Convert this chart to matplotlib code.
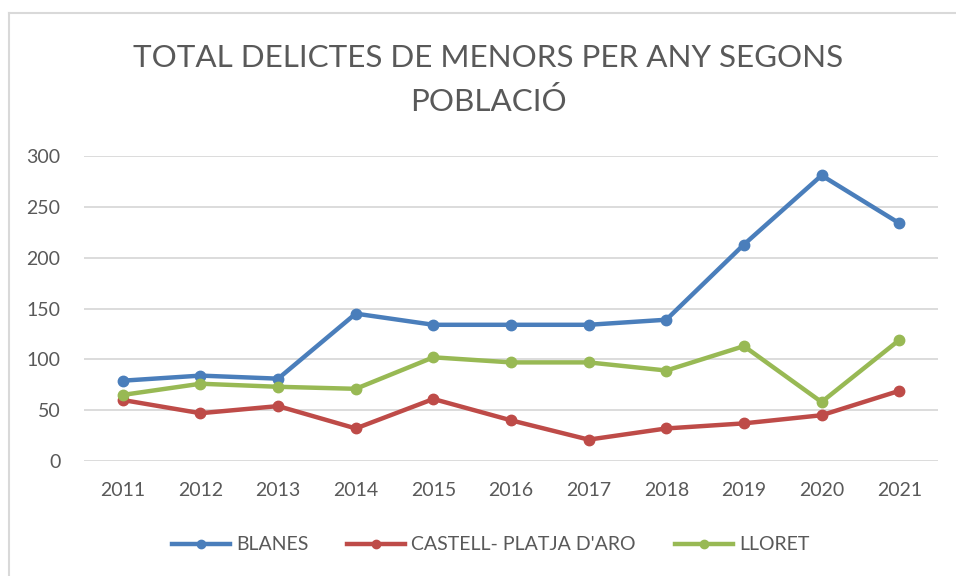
import matplotlib
matplotlib.use("Agg")
import matplotlib.pyplot as plt
from matplotlib.lines import Line2D

years = ["2011", "2012", "2013", "2014", "2015", "2016", "2017", "2018", "2019", "2020", "2021"]
blanes = [79, 84, 81, 145, 134, 134, 134, 139, 213, 281, 234]
castell = [60, 47, 54, 32, 61, 40, 21, 32, 37, 45, 69]
lloret = [65, 76, 73, 71, 102, 97, 97, 89, 113, 58, 119]
series_names = ["BLANES", "CASTELL- PLATJA D'ARO", "LLORET"]
colors = ["#4a7ebb", "#be4b48", "#98b954"]

plt.rcParams["font.family"] = ["Lato", "DejaVu Sans"]
text_color = "#595959"

fig = plt.figure(figsize=(9.56, 5.76), dpi=100)
ax = fig.add_axes([0.0879, 0.1997, 0.8933, 0.5293])

x = list(range(len(years)))
for vals, name, col in zip([blanes, castell, lloret], series_names, colors):
    ax.plot(x, vals, color=col, lw=3.2, marker="o", ms=7.5, label=name,
            solid_joinstyle="round", solid_capstyle="round")

ax.set_xlim(-0.5, len(years) - 0.5)
ax.set_ylim(0, 300)
ax.set_yticks(range(0, 301, 50))
ax.set_xticks(x)
ax.set_xticklabels(years)
ax.grid(axis="y", color="#d9d9d9", lw=1.3)
ax.set_axisbelow(True)
for s in ax.spines.values():
    s.set_visible(False)
ax.tick_params(length=0, colors=text_color, labelsize=14)
ax.tick_params(axis="y", pad=17)
ax.tick_params(axis="x", pad=15)

fig.text(0.511, 0.899, "TOTAL DELICTES DE MENORS PER ANY SEGONS", ha="center", va="center",
         fontsize=22.6, color=text_color)
fig.text(0.511, 0.824, "POBLACIÓ", ha="center", va="center",
         fontsize=22.6, color=text_color)

handles = [Line2D([], [], color=c, lw=3.2, marker="o", ms=6, markevery=[1]) for c in colors]
for h in handles:
    h.set_xdata([0, 0.5, 1])
leg = fig.legend(handles, series_names, loc="center", bbox_to_anchor=(0.513, 0.054), ncol=3,
                 frameon=False, fontsize=14, handlelength=3.0, columnspacing=2.0, handletextpad=0.3)
for t in leg.get_texts():
    t.set_color(text_color)

# chart area border (cropped on right/bottom)
fig.add_artist(Line2D([9 / 956, 1], [1 - 13 / 576, 1 - 13 / 576], color="#d9d9d9", lw=1.5,
                      transform=fig.transFigure))
fig.add_artist(Line2D([9 / 956, 9 / 956], [0, 1 - 13 / 576], color="#d9d9d9", lw=1.5,
                      transform=fig.transFigure))

fig.savefig("out.png", dpi=100)
